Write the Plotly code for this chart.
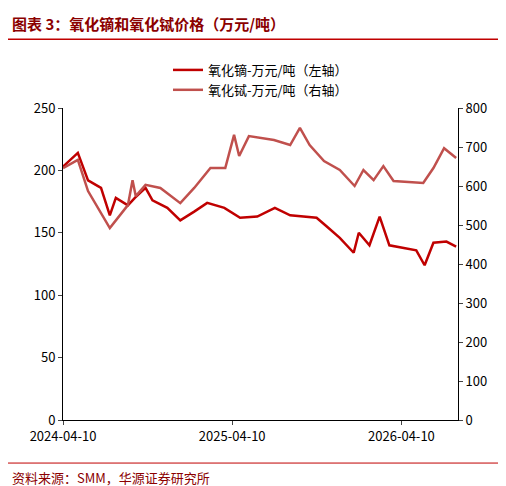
import pandas as pd
import plotly.graph_objects as go

start = pd.Timestamp("2024-04-10")

# 氧化镝 (left axis), days since 2024-04-10
dy_days = [0, 32, 54, 82, 101, 114, 140, 155, 178, 193, 225, 253, 283, 311, 348, 382, 419,
           457, 490, 547, 569, 597, 627, 638, 661, 683, 704, 762, 780, 799, 827, 848]
dy_vals = [203, 214, 192, 186, 164, 178, 172, 178, 186, 176, 170, 160, 167, 174, 170, 162, 163,
           170, 164, 162, 155, 146, 134, 150, 140, 163, 140, 136, 124, 142, 143, 139]

# 氧化铽 (right axis)
tb_days = [0, 32, 54, 101, 140, 150, 157, 178, 210, 253, 283, 318, 350, 369, 380, 401,
           455, 490, 511, 532, 563, 597, 629, 648, 670, 691, 713, 777, 799, 822, 848]
tb_vals = [646, 667, 587, 492, 551, 615, 574, 603, 595, 556, 595, 646, 646, 731, 677, 728,
           718, 705, 749, 705, 664, 641, 600, 641, 615, 651, 613, 608, 646, 697, 672]

tick_dates = ["2024-04-10", "2025-04-10", "2026-04-10"]

dy_x = [start + pd.Timedelta(days=d) for d in dy_days]
tb_x = [start + pd.Timedelta(days=d) for d in tb_days]

fig = go.Figure()
fig.add_trace(go.Scatter(x=dy_x, y=dy_vals, name="氧化镝-万元/吨（左轴）",
                         line=dict(color="#C00000", width=2.5)))
fig.add_trace(go.Scatter(x=tb_x, y=tb_vals, name="氧化铽-万元/吨（右轴）", yaxis="y2",
                         line=dict(color="#C0504D", width=2.5)))

font = "Noto Sans CJK SC"
fig.update_layout(
    width=506, height=486,
    margin=dict(l=55, r=56, t=100, b=74, autoexpand=False),
    plot_bgcolor="white", paper_bgcolor="white",
    font=dict(family=font, size=13, color="black"),
    showlegend=True,
    legend=dict(x=0.5, y=1.17, xanchor="center", yanchor="top", bgcolor="rgba(0,0,0,0)",
                font=dict(size=13)),
    xaxis=dict(range=[start, start + pd.Timedelta(days=852)], showgrid=False,
               tickvals=tick_dates, ticktext=tick_dates,
               showline=True, linecolor="black", ticks="outside", ticklen=4),
    yaxis=dict(range=[0, 250], dtick=50, showgrid=False, showline=True, linecolor="black",
               ticks="outside", ticklen=4, zeroline=False),
    yaxis2=dict(range=[0, 800], dtick=100, overlaying="y", side="right", showgrid=False,
                showline=True, linecolor="black", ticks="outside", ticklen=4, zeroline=False),
)

fig.add_annotation(text="<b>图表 3：氧化镝和氧化铽价格（万元/吨）</b>", xref="paper", yref="paper",
                   x=-0.135, y=1.27, xanchor="left", yanchor="middle", showarrow=False,
                   font=dict(size=15, color="#8B0000", family=font))
fig.add_shape(type="line", xref="paper", yref="paper", x0=-0.14, x1=1.14, y0=1.22, y1=1.22,
              line=dict(color="#C00000", width=1.5))
fig.add_shape(type="line", xref="paper", yref="paper", x0=-0.14, x1=1.14, y0=-0.138, y1=-0.138,
              line=dict(color="#C00000", width=1))
fig.add_annotation(text="资料来源：SMM，华源证券研究所", xref="paper", yref="paper",
                   x=-0.135, y=-0.185, xanchor="left", yanchor="middle", showarrow=False,
                   font=dict(size=13, color="#8B0000", family=font))

fig.write_html("out.html")
